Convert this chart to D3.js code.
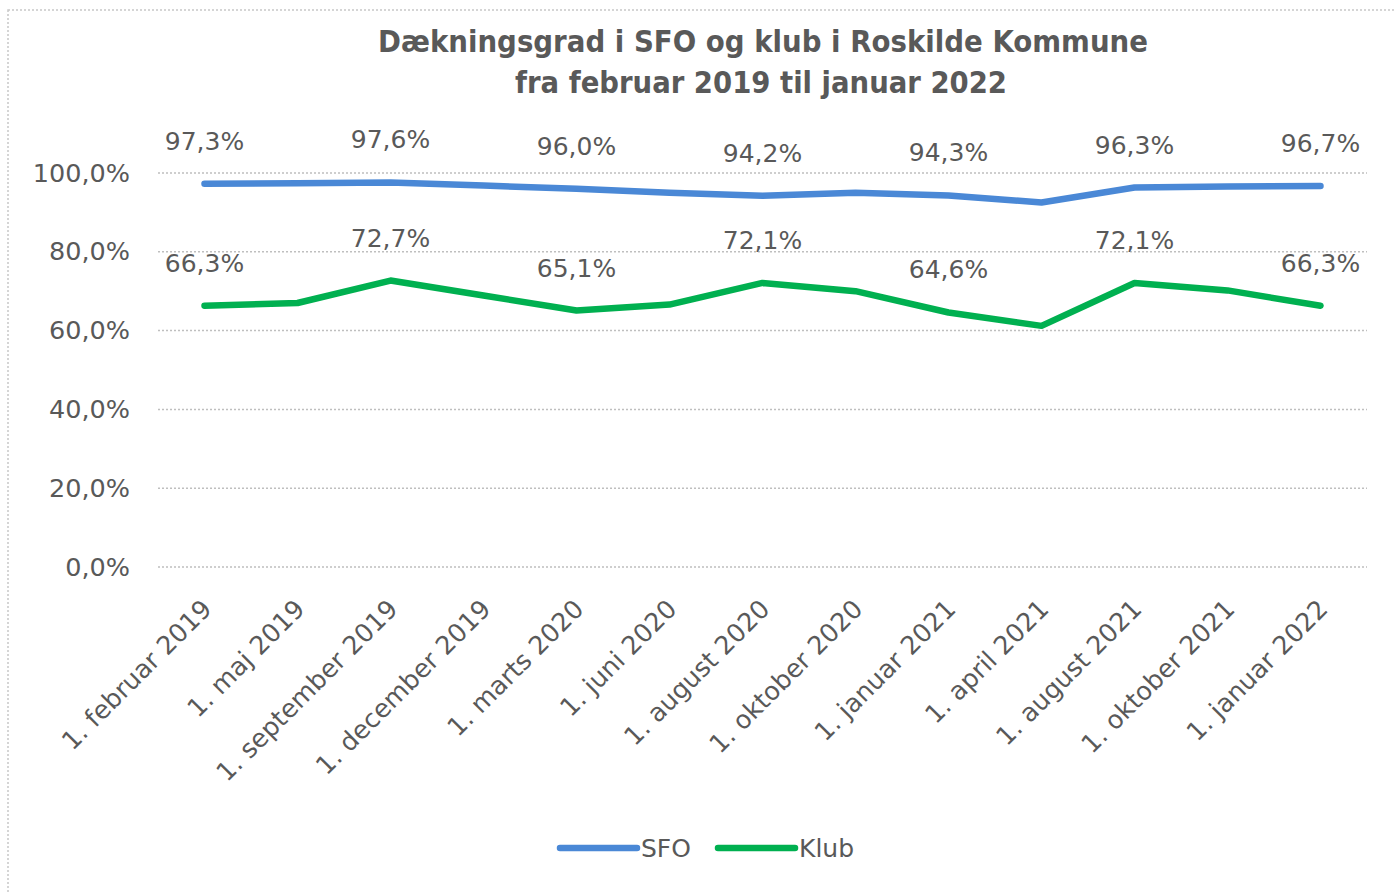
<!DOCTYPE html>
<html>
<head>
<meta charset="utf-8">
<script src="https://cdn.jsdelivr.net/npm/d3@7"></script>
<style>
  body { margin: 0; background: #fff; }
  text { fill: #595959; font-family: "DejaVu Sans", sans-serif; }
</style>
</head>
<body>
<script>
// Data
var categories = ["1. februar 2019", "1. maj 2019", "1. september 2019", "1. december 2019",
  "1. marts 2020", "1. juni 2020", "1. august 2020", "1. oktober 2020", "1. januar 2021",
  "1. april 2021", "1. august 2021", "1. oktober 2021", "1. januar 2022"];
var sfo  = [97.3, 97.4, 97.6, 96.8, 96.0, 95.0, 94.2, 95.0, 94.3, 92.5, 96.3, 96.6, 96.7];
var klub = [66.3, 67.0, 72.7, 68.9, 65.1, 66.6, 72.1, 70.0, 64.6, 61.2, 72.1, 70.2, 66.3];
var yTicks = [0, 20, 40, 60, 80, 100];
var series = [
  {name: "SFO", values: sfo, color: "#4a88d6"},
  {name: "Klub", values: klub, color: "#00b050"}
];

var W = 1395, H = 894;
var svg = d3.select("body").append("svg")
  .attr("width", W).attr("height", H);

// chart border (dotted)
svg.append("rect")
  .attr("x", 8).attr("y", 10).attr("width", W + 20).attr("height", H + 20)
  .attr("fill", "none").attr("stroke", "#c8c8c8")
  .attr("stroke-width", 1.5).attr("stroke-dasharray", "2,2");

// scales
var x = d3.scaleBand().domain(categories).range([158, 1367]);
var y = d3.scaleLinear().domain([0, 100]).range([567, 173]);
var cx = d => x(d) + x.bandwidth() / 2;

// title
var title = svg.append("g").attr("font-weight", "bold");
title.append("text").attr("x", 763).attr("y", 52).attr("text-anchor", "middle")
  .attr("font-size", 30).attr("textLength", 770).attr("lengthAdjust", "spacingAndGlyphs")
  .text("Dækningsgrad i SFO og klub i Roskilde Kommune");
title.append("text").attr("x", 761).attr("y", 93).attr("text-anchor", "middle")
  .attr("font-size", 30).attr("textLength", 492).attr("lengthAdjust", "spacingAndGlyphs")
  .text("fra februar 2019 til januar 2022");

// gridlines
svg.append("g").selectAll("line").data(yTicks).join("line")
  .attr("x1", 158).attr("x2", 1367)
  .attr("y1", d => y(d)).attr("y2", d => y(d))
  .attr("stroke", "#bfbfbf").attr("stroke-width", 1.5)
  .attr("stroke-dasharray", "2,2");

// y axis
var axeY = d3.axisLeft(y).tickValues(yTicks).tickSize(0).tickPadding(0)
  .tickFormat(d => d3.format(".1f")(d).replace(".", ",") + "%");
var groupeY = svg.append("g").attr("transform", "translate(130,0)").call(axeY);
groupeY.select(".domain").remove();
groupeY.selectAll("text").attr("font-size", 25.5).attr("fill", "#595959")
  .attr("font-family", "DejaVu Sans, sans-serif");

// x axis labels
var axeX = d3.axisBottom(x).tickSize(0).tickPadding(0);
var groupeX = svg.append("g").attr("transform", "translate(0,598)").call(axeX);
groupeX.select(".domain").remove();
groupeX.selectAll("text")
  .attr("font-size", 25.5).attr("fill", "#595959")
  .attr("font-family", "DejaVu Sans, sans-serif")
  .attr("text-anchor", "end")
  .attr("dy", "0.7em")
  .attr("transform", "translate(-4,0) rotate(-45)");

// lines
var valueLine = d3.line()
  .x((d, i) => cx(categories[i]))
  .y(d => y(d));
svg.append("g").selectAll("path").data(series).join("path")
  .attr("d", d => valueLine(d.values))
  .attr("fill", "none").attr("stroke", d => d.color)
  .attr("stroke-width", 6.5).attr("stroke-linejoin", "round").attr("stroke-linecap", "round");

// data labels (every other point)
series.forEach(s => {
  svg.append("g").selectAll("text")
    .data(s.values.map((v, i) => ({v: v, i: i})).filter(d => d.i % 2 === 0))
    .join("text")
    .attr("x", d => cx(categories[d.i]))
    .attr("y", d => y(d.v) - 34)
    .attr("text-anchor", "middle")
    .attr("font-size", 25)
    .text(d => d3.format(".1f")(d.v).replace(".", ",") + "%");
});

// legend
var legend = svg.append("g").attr("transform", "translate(0,848)");
var lx = [560, 718];
series.forEach((s, i) => {
  legend.append("line").attr("x1", lx[i]).attr("x2", lx[i] + 77)
    .attr("stroke", s.color).attr("stroke-width", 6.5).attr("stroke-linecap", "round");
  legend.append("text").attr("x", lx[i] + 81).attr("y", 0).attr("dy", "0.35em")
    .attr("font-size", 25).text(s.name);
});
</script>
</body>
</html>
